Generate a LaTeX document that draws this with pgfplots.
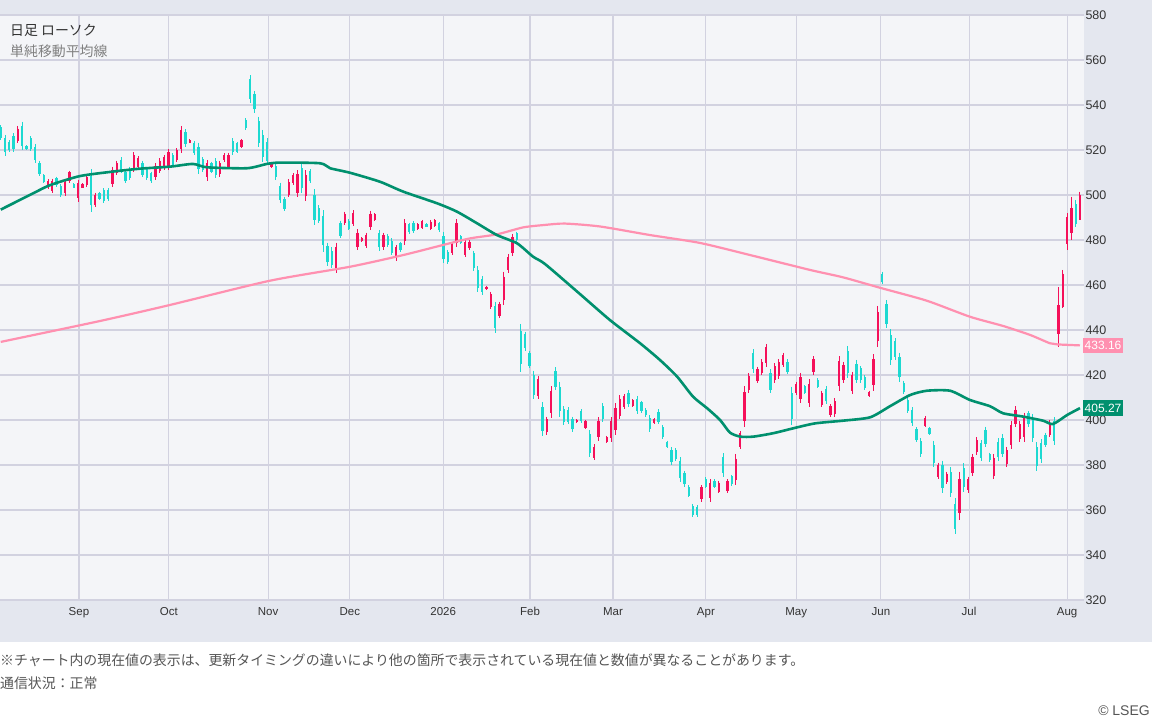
\documentclass[border=0pt]{standalone}
\usepackage{fontspec}
\setmainfont{Liberation Sans}
\newfontfamily\jp{Noto Sans CJK JP}
\usepackage{pgfplots}
\pgfplotsset{compat=1.18}
\usepackage{pgfplotstable}
\definecolor{framegray}{HTML}{E4E7EF}
\definecolor{plotbg}{HTML}{F4F5F8}
\definecolor{gridcol}{HTML}{D2D2E0}
\definecolor{upcol}{HTML}{F5105A}
\definecolor{dncol}{HTML}{1DD9D1}
\definecolor{maone}{HTML}{00906E}
\definecolor{matwo}{HTML}{FF90B0}
\definecolor{labcol}{HTML}{333333}
\definecolor{footcol}{HTML}{555555}

\pgfplotstableread{
i o h l c
4 524.2 530.7 523.0 529.5
11 503.4 507.0 502.8 506.4
12 501.7 507.3 500.7 506.3
15 500.7 507.0 499.6 505.9
16 506.3 510.8 505.5 510.0
18 498.5 506.7 497.0 505.2
19 503.3 505.2 503.0 504.9
20 504.4 508.5 503.7 507.8
22 495.7 501.0 494.8 500.1
26 505.0 512.6 503.7 511.3
27 509.9 515.3 508.9 514.3
31 511.7 519.1 510.4 517.8
32 512.3 517.3 511.4 516.4
36 507.8 514.1 506.7 513.0
37 510.6 516.3 509.6 515.3
38 512.1 517.8 511.1 516.8
39 512.5 520.3 511.1 518.9
41 515.7 520.7 514.8 519.8
42 520.3 530.7 518.5 528.9
44 523.3 524.7 523.0 524.4
48 507.8 515.6 506.4 514.2
51 509.3 515.3 508.2 514.2
52 515.4 518.5 514.8 517.9
53 512.5 518.8 511.4 517.7
56 521.3 524.9 520.7 524.3
63 512.3 514.8 511.9 514.4
67 500.1 506.9 498.9 505.7
68 505.2 509.6 504.4 508.8
69 500.7 511.1 498.9 509.3
71 499.5 511.1 497.5 509.1
78 467.2 478.8 465.2 476.8
80 487.6 492.6 486.7 491.7
82 487.3 493.3 486.2 492.2
83 477.0 484.7 475.6 483.3
84 479.6 481.2 479.3 480.9
85 477.3 483.3 476.3 482.3
86 485.7 493.0 484.4 491.7
87 489.1 491.9 488.6 491.4
89 476.8 483.3 475.6 482.1
92 471.8 477.8 470.8 476.8
94 479.5 489.2 477.8 487.5
97 484.9 487.4 484.4 486.9
98 485.3 488.9 484.7 488.3
100 485.1 488.9 484.4 488.2
101 486.1 489.2 485.6 488.7
105 474.2 479.3 473.3 478.4
106 478.8 489.2 477.0 487.4
108 473.5 480.3 472.3 479.1
109 476.3 480.0 475.6 479.3
113 458.1 459.6 457.8 459.3
114 450.4 457.0 449.2 455.8
116 446.3 452.6 445.2 451.5
117 453.3 465.9 451.1 463.7
118 466.7 473.8 465.5 472.6
119 474.4 482.7 472.9 481.2
125 410.8 419.6 409.2 418.0
127 394.5 401.5 393.3 400.3
128 402.9 415.1 400.7 412.9
134 399.0 400.3 398.8 400.1
136 396.5 400.0 395.9 399.4
138 383.3 389.3 382.2 388.2
139 392.4 401.2 390.8 399.6
141 390.4 392.9 389.9 392.4
142 392.0 401.2 390.4 399.6
143 395.4 407.4 393.3 405.3
144 401.9 411.1 400.3 409.5
145 405.7 411.6 404.7 410.6
147 406.1 409.2 405.6 408.7
152 398.6 400.7 398.2 400.3
163 364.8 371.1 363.7 370.0
165 365.2 373.6 363.7 372.1
167 368.2 373.0 367.4 372.2
169 368.3 373.6 367.4 372.7
171 373.2 384.9 371.1 382.8
172 388.2 395.2 387.0 394.0
173 399.7 415.1 397.0 412.4
174 413.4 420.7 412.1 419.4
176 417.4 423.7 416.3 422.6
177 421.0 426.9 420.0 425.9
178 425.2 433.8 423.7 432.3
180 417.6 425.2 416.3 423.9
181 419.4 426.9 418.1 425.6
182 424.6 429.9 423.7 429.0
185 412.0 417.0 411.1 416.1
186 409.4 421.0 407.4 419.0
188 407.5 418.1 405.6 416.2
189 421.3 428.4 420.0 427.1
191 406.7 413.0 405.6 411.9
193 402.1 407.1 401.2 406.2
194 402.5 409.6 401.2 408.3
195 415.3 428.4 413.0 426.1
196 417.7 425.9 416.3 424.5
198 413.1 421.5 411.6 420.0
202 410.5 413.0 410.1 412.6
203 415.4 429.3 413.0 426.9
204 435.3 450.7 432.6 448.0
215 397.5 401.8 396.7 401.0
218 374.7 381.0 373.6 379.9
220 372.4 377.0 371.6 376.2
223 358.8 377.0 355.6 373.8
225 368.8 374.8 367.7 373.7
226 376.6 384.9 375.1 383.4
227 385.6 392.3 384.4 391.1
231 375.3 384.9 373.6 383.2
234 380.4 388.1 379.0 386.7
235 388.9 399.7 387.0 397.8
236 398.1 406.0 396.7 404.6
237 391.5 399.7 390.0 398.2
238 392.3 403.3 390.4 401.4
244 393.5 400.0 392.3 398.8
246 438.0 459.0 432.6 451.0
247 450.0 466.7 449.8 465.0
248 478.0 492.0 475.6 490.0
249 483.0 499.3 480.0 494.0
251 489.0 501.5 489.0 500.0
}\upcandles

\pgfplotstableread{
i o h l c
0 530.1 531.1 524.4 525.4
1 525.3 526.7 517.5 518.9
2 523.6 524.4 519.3 520.1
3 526.2 527.4 519.3 520.5
5 530.7 532.6 520.0 521.9
6 521.9 522.2 520.0 520.3
7 525.2 526.2 519.6 520.6
8 521.5 522.7 514.4 515.6
9 514.3 515.3 508.5 509.5
10 508.7 509.3 505.2 505.8
13 507.5 508.2 503.7 504.4
14 504.0 504.9 499.0 499.9
17 504.9 505.2 503.0 503.3
21 508.6 511.4 492.6 495.4
23 500.9 501.5 497.8 498.4
24 502.0 503.0 496.3 497.3
25 502.2 503.0 497.5 498.3
28 515.6 516.7 509.6 510.7
29 510.2 511.1 505.2 506.1
30 511.7 512.6 506.7 507.6
33 514.2 515.3 507.9 509.0
34 511.7 512.6 506.7 507.6
35 509.6 510.4 505.2 506.0
40 517.6 518.5 512.6 513.5
43 528.0 529.2 521.5 522.7
45 523.1 524.0 517.8 518.7
46 521.2 523.3 509.3 511.4
47 515.8 516.7 510.4 511.3
49 514.0 514.8 509.6 510.4
50 515.0 516.3 507.4 508.7
54 524.1 525.2 517.8 518.9
55 522.9 523.7 518.5 519.3
57 533.3 534.1 528.9 529.7
58 551.4 553.3 540.7 542.6
59 544.9 546.4 536.6 538.1
60 532.8 534.8 521.2 523.2
61 526.8 528.9 514.8 516.9
62 523.4 525.2 513.3 515.1
64 513.0 514.1 506.7 507.8
65 504.1 505.5 496.3 497.7
66 498.4 499.3 493.0 493.9
70 511.9 513.8 501.0 502.9
72 510.5 511.4 505.2 506.1
73 500.1 502.5 486.7 489.1
74 494.3 495.5 487.4 488.6
75 490.5 493.3 474.8 477.6
76 477.2 478.8 468.4 470.0
77 475.3 476.7 467.4 468.8
79 487.4 488.6 480.7 481.9
81 488.5 489.2 484.4 485.1
88 483.0 484.4 475.3 476.7
90 481.8 482.7 476.7 477.6
91 479.6 480.7 473.3 474.4
93 478.6 479.3 474.8 475.5
95 486.9 487.7 482.7 483.5
96 487.6 488.4 483.0 483.8
99 487.1 487.4 485.6 485.9
102 487.4 488.1 483.7 484.4
103 481.6 483.7 469.6 471.7
104 474.7 475.6 469.3 470.2
107 481.6 482.2 478.2 478.8
110 474.0 475.3 466.4 467.7
111 466.7 468.4 457.0 458.7
112 462.7 464.0 455.6 456.9
115 450.5 452.6 438.8 440.9
120 483.0 483.7 479.3 480.0
121 439.5 442.7 421.5 424.7
122 438.0 439.3 430.8 432.1
123 429.6 430.8 422.9 424.1
124 420.0 421.9 409.2 411.1
126 405.8 408.1 392.9 395.2
129 421.9 423.4 413.3 414.8
130 414.7 417.0 401.5 403.8
131 404.9 406.2 397.8 399.1
132 404.5 405.6 398.2 399.3
133 400.5 401.5 394.8 395.8
135 403.8 404.7 398.5 399.4
137 393.7 395.5 383.4 385.2
140 406.2 407.4 399.3 400.5
146 412.2 413.3 405.9 407.0
148 409.5 410.7 402.7 403.9
149 407.8 408.6 403.3 404.1
150 404.6 405.2 401.5 402.1
151 401.1 402.2 394.8 395.9
153 403.7 404.7 398.2 399.2
154 396.8 397.8 391.4 392.4
155 390.3 390.8 387.4 387.9
156 386.6 387.8 380.0 381.2
157 386.6 387.4 381.9 382.7
158 381.8 383.4 372.6 374.2
159 376.4 377.5 370.4 371.5
160 370.3 371.1 365.6 366.4
161 361.8 362.7 357.0 357.9
162 361.4 362.2 357.0 357.8
164 373.8 374.5 369.6 370.3
166 373.0 373.6 369.6 370.2
168 383.6 385.2 374.8 376.4
170 374.9 375.6 370.7 371.4
175 429.8 431.4 421.0 422.6
179 420.9 422.5 411.9 413.5
183 425.9 426.9 420.4 421.4
184 412.2 414.8 397.8 400.4
187 414.9 415.5 411.6 412.2
190 417.8 418.5 414.1 414.8
192 413.9 415.1 407.1 408.3
197 430.7 432.9 418.5 420.7
199 425.1 426.7 416.3 417.9
200 422.9 424.0 416.6 417.7
201 419.0 420.0 413.3 414.3
205 465.1 465.9 460.4 461.2
206 451.4 453.3 440.7 442.6
207 437.9 440.3 424.4 426.8
208 434.9 436.3 426.7 428.1
209 428.0 429.9 417.0 418.9
210 416.6 417.5 411.6 412.5
211 409.0 410.1 403.0 404.1
212 404.4 405.6 397.4 398.6
213 395.8 396.7 390.4 391.3
214 390.6 391.9 383.4 384.7
216 396.4 397.0 393.3 393.9
217 389.0 390.8 379.0 380.8
219 379.8 381.9 367.7 369.8
221 377.0 379.0 365.6 367.6
222 362.8 365.2 349.3 351.7
224 378.8 380.7 368.2 370.1
228 389.7 391.1 381.9 383.3
229 395.7 397.0 388.1 389.4
230 384.9 385.5 381.5 382.1
232 390.4 391.9 381.9 383.4
233 392.2 393.8 383.4 385.0
239 403.0 404.1 397.0 398.1
240 400.9 402.7 390.4 392.2
241 388.1 390.0 377.5 379.4
242 389.8 391.4 381.0 382.6
243 393.5 394.4 388.1 389.0
245 399.4 401.2 388.9 390.7
250 496.0 497.8 485.8 487.0
}\downcandles

\begin{document}
\begin{tikzpicture}[x=1pt,y=1pt]
\useasboundingbox (0,0) rectangle (1152,720);
\fill[white] (0,0) rectangle (1152,720);
\fill[framegray] (0,78) rectangle (1152,720);
\begin{axis}[
  at={(0pt,120pt)}, anchor=south west,
  scale only axis, width=1084pt, height=585pt,
  xmin=-0.163, xmax=251.93, ymin=320, ymax=580,
  clip=false,
  axis background/.style={fill=plotbg},
  axis line style={draw=none},
  ytick={320,340,...,580},
  yticklabel pos=right,
  xtick={18.2,39.1,62.2,81.2,102.9,123.1,142.4,164.0,185.0,204.7,225.2,248.0},
  xticklabels={Sep,Oct,Nov,Dec,2026,Feb,Mar,Apr,May,Jun,Jul,Aug},
  grid=major,
  major grid style={color=gridcol, line width=1.1pt},
  major tick length=0pt,
  tick style={draw=none},
  /pgf/number format/assume math mode=true,
  x tick label style={font=\fontsize{11.5}{13}\selectfont, text=labcol, yshift=-4pt},
  y tick label style={font=\fontsize{12.5}{14}\selectfont, text=labcol, anchor=west, xshift=-2pt},
]
\draw[gridcol, line width=2pt] (axis cs:-0.163,440) -- (axis cs:251.93,440);
\draw[gridcol, line width=2pt] (axis cs:-0.163,560) -- (axis cs:251.93,560);
\draw[gridcol, line width=2pt] (axis cs:-0.163,320) -- (axis cs:251.93,320);
% wicks
\addplot[upcol, line width=1pt, mark=none, quiver={u=0, v=\thisrow{l}-\thisrow{h}}] table[x=i, y=h] {\upcandles};
\addplot[dncol, line width=1pt, mark=none, quiver={u=0, v=\thisrow{l}-\thisrow{h}}] table[x=i, y=h] {\downcandles};
% bodies
\addplot[upcol, line width=2.3pt, mark=none, quiver={u=0, v=\thisrow{o}-\thisrow{c}}] table[x=i, y=c] {\upcandles};
\addplot[dncol, line width=2.3pt, mark=none, quiver={u=0, v=\thisrow{o}-\thisrow{c}}] table[x=i, y=c] {\downcandles};
% 200-day MA
\addplot[matwo, line width=2.2pt, mark=none, smooth, tension=0.4] coordinates {
(0,434.7) (23.1,444.0) (39.1,451.0) (62.6,461.9) (81.2,468.1) (93.6,473.3)
(102.9,477.8) (109.1,480.7) (115.4,482.5) (121.5,485.6) (126.6,486.7) (131.2,487.3)
(139.4,486.0) (151.0,482.2) (162.6,478.7) (174.3,473.3) (188.2,466.7) (195.9,463.4)
(205.0,458.5) (215.4,453.0) (225.4,445.9) (233.1,441.8) (239.4,437.8) (244.0,434.1)
(245.7,433.6) (251,433.16)};
% 75-day MA
\addplot[maone, line width=2.6pt, mark=none, smooth, tension=0.4] coordinates {
(0,493.5) (7.5,500.7) (11.5,504.4) (18.4,508.4) (26.1,510.4) (32.4,511.7)
(39.4,512.6) (44.7,513.8) (48.0,512.3) (57.3,511.9) (61.9,513.8) (65.0,514.4)
(74.3,514.1) (76.6,511.9) (81.2,509.9) (88.2,505.9) (93.6,501.5) (101.5,496.3)
(106.1,492.6) (110.8,487.4) (115.4,482.2) (120.1,478.5) (123.8,472.6) (126.6,469.3)
(134.7,456.0) (141.7,444.4) (148.7,434.1) (153.3,426.7) (157.3,419.3) (161.0,410.4)
(164.3,405.2) (167.3,400.0) (169.6,394.4) (172.0,392.6) (175.0,392.6) (179.6,394.1)
(184.3,396.3) (189.4,398.5) (195.9,399.7) (202.2,401.2) (206.8,406.1) (211.5,411.1)
(215.4,413.0) (220.8,413.0) (225.4,408.9) (230.1,406.1) (233.1,403.0) (237.8,401.5)
(242.4,399.7) (244.7,398.2) (248.0,402.2) (251,405.27)};
\end{axis}
% current value boxes
\node[fill=matwo, text=white, anchor=west, inner sep=1.5pt, minimum height=15pt,
  font=\fontsize{12}{14}\selectfont] at (1083,374.6) {433.16};
\node[fill=maone, text=white, anchor=west, inner sep=1.5pt, minimum height=16pt,
  font=\fontsize{12}{14}\selectfont] at (1083,311.9) {405.27};
% titles
\node[anchor=west, inner sep=0pt, text=labcol, font=\jp\fontsize{13.9}{16}\selectfont] at (10,690) {日足 ローソク};
\node[anchor=west, inner sep=0pt, text=black!50, font=\jp\fontsize{13.9}{16}\selectfont] at (10,669) {単純移動平均線};
% footer
\node[anchor=west, inner sep=0pt, text=footcol, font=\jp\fontsize{13.9}{16}\selectfont] at (0,60) {※チャート内の現在値の表示は、更新タイミングの違いにより他の箇所で表示されている現在値と数値が異なることがあります。};
\node[anchor=west, inner sep=0pt, text=footcol, font=\jp\fontsize{13.9}{16}\selectfont] at (0,37) {通信状況：正常};
\node[anchor=east, inner sep=0pt, text=footcol, font=\fontsize{14}{16}\selectfont] at (1150,9) {© LSEG};
\end{tikzpicture}
\end{document}
